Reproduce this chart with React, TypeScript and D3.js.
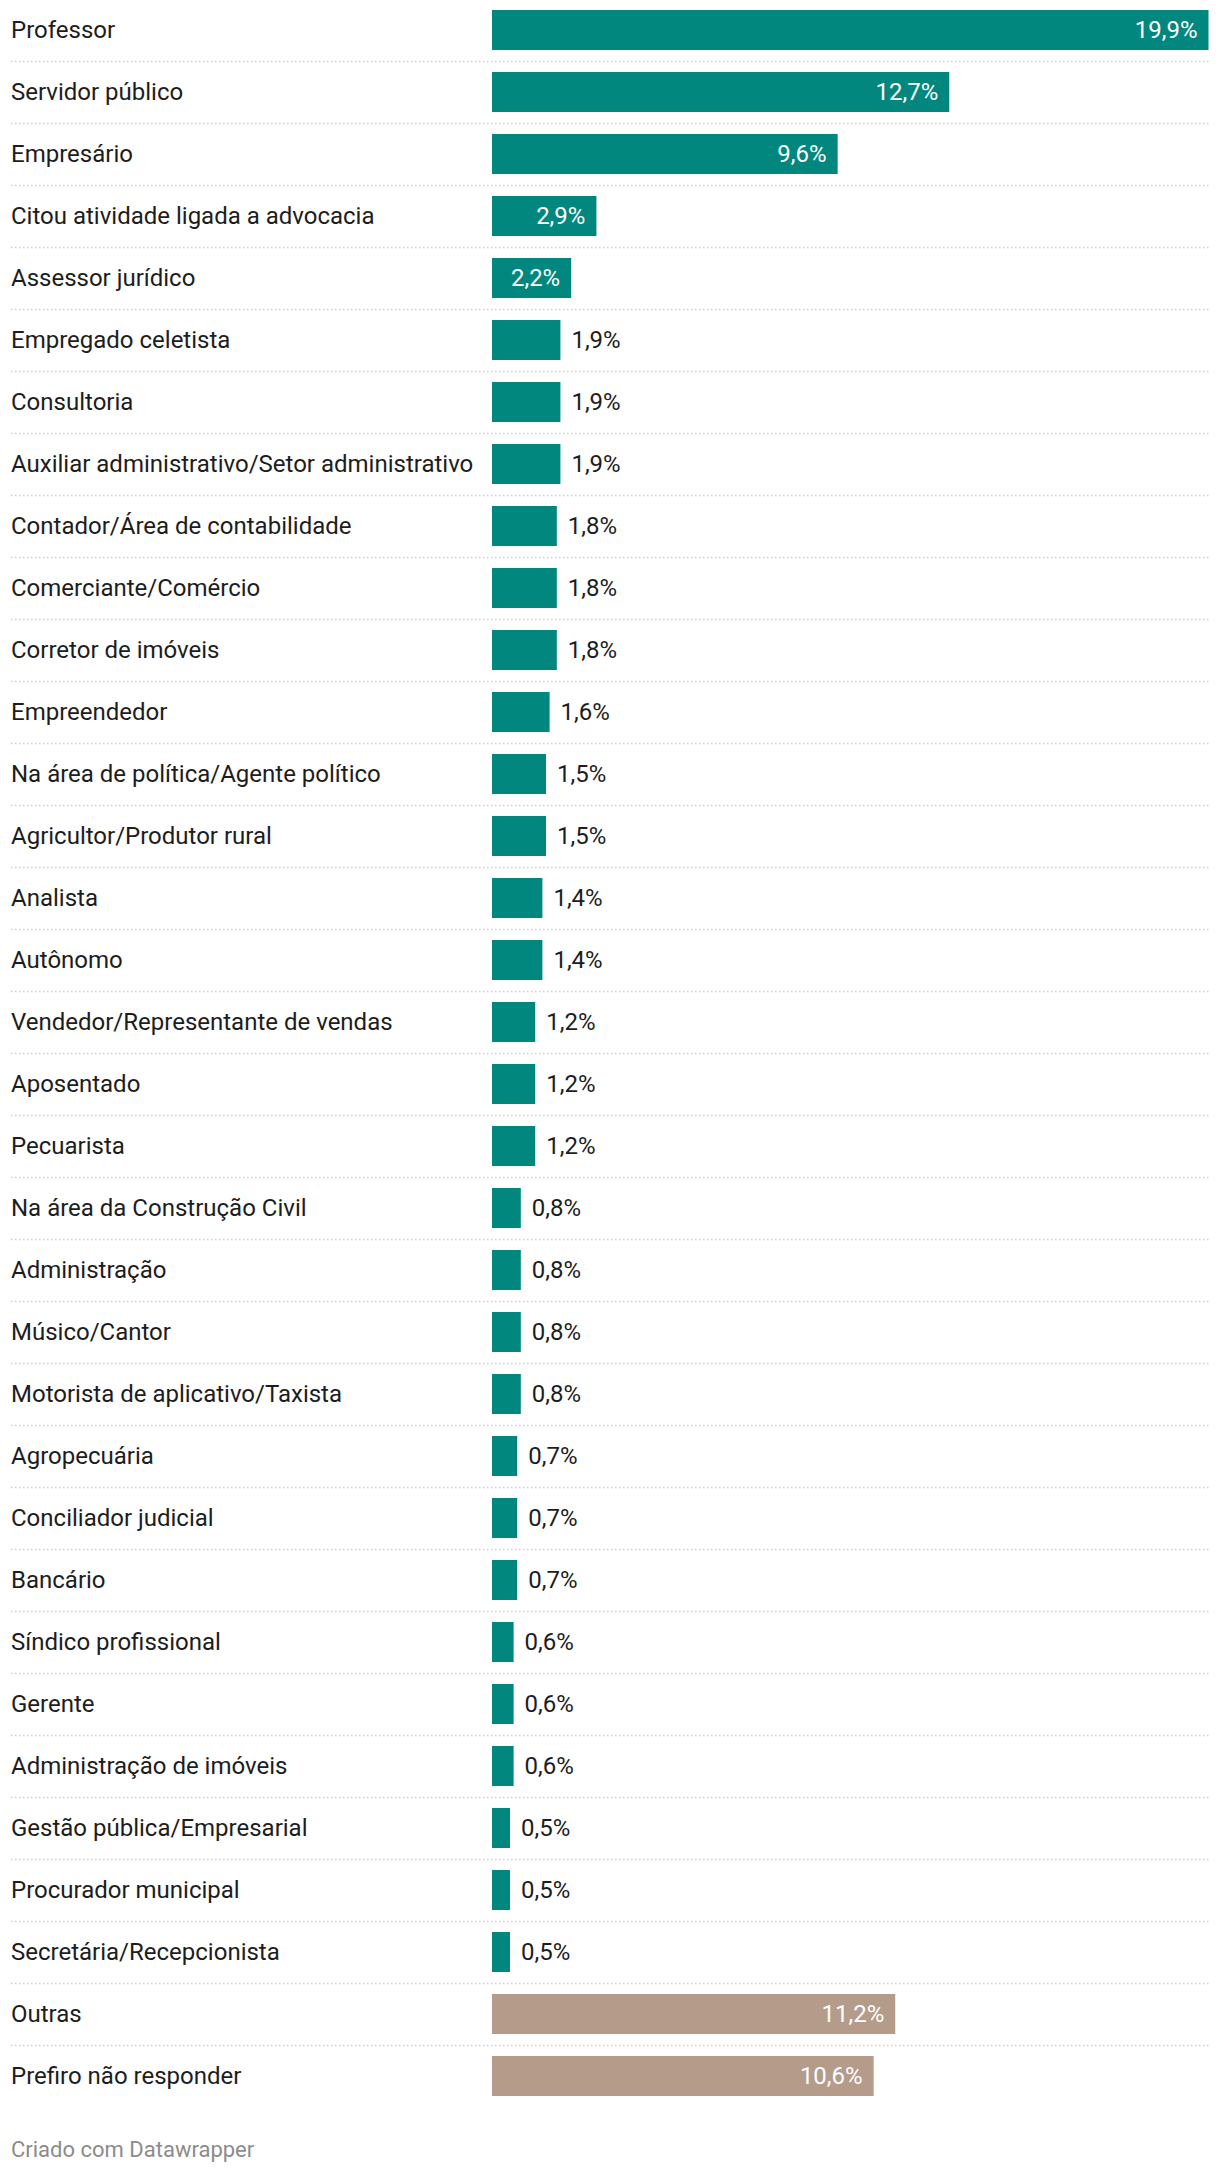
import React from 'react';
import * as d3 from 'd3';

const categories = [
  'Professor',
  'Servidor público',
  'Empresário',
  'Citou atividade ligada a advocacia',
  'Assessor jurídico',
  'Empregado celetista',
  'Consultoria',
  'Auxiliar administrativo/Setor administrativo',
  'Contador/Área de contabilidade',
  'Comerciante/Comércio',
  'Corretor de imóveis',
  'Empreendedor',
  'Na área de política/Agente político',
  'Agricultor/Produtor rural',
  'Analista',
  'Autônomo',
  'Vendedor/Representante de vendas',
  'Aposentado',
  'Pecuarista',
  'Na área da Construção Civil',
  'Administração',
  'Músico/Cantor',
  'Motorista de aplicativo/Taxista',
  'Agropecuária',
  'Conciliador judicial',
  'Bancário',
  'Síndico profissional',
  'Gerente',
  'Administração de imóveis',
  'Gestão pública/Empresarial',
  'Procurador municipal',
  'Secretária/Recepcionista',
  'Outras',
  'Prefiro não responder',
];

const values = [
  19.9, 12.7, 9.6, 2.9, 2.2, 1.9, 1.9, 1.9, 1.8, 1.8, 1.8, 1.6, 1.5, 1.5, 1.4, 1.4, 1.2,
  1.2, 1.2, 0.8, 0.8, 0.8, 0.8, 0.7, 0.7, 0.7, 0.6, 0.6, 0.6, 0.5, 0.5, 0.5, 11.2, 10.6,
];

// categories drawn in the muted tan colour
const neutral = ['Outras', 'Prefiro não responder'];

const WIDTH = 1220;
const HEIGHT = 2172;
const TEAL = '#01877d';
const TAN = '#b59b89';
const FONT = 'Roboto, "Noto Sans", sans-serif';

export default function App() {
  const n = categories.length;
  const pad = 22 / 62;

  const x = d3.scaleLinear().domain([0, 19.9]).range([492, 1208.5]);
  const y = d3
    .scaleBand<string>()
    .domain(categories)
    .range([-1, -1 + 62 * n])
    .paddingInner(pad)
    .paddingOuter(pad / 2);
  const bh = y.bandwidth();
  const fmt = (v: number) => v.toFixed(1).replace('.', ',') + '%';

  return (
    <svg
      width={WIDTH}
      height={HEIGHT}
      style={{ position: 'absolute', left: 0, top: 0, background: '#fff' }}
      fontFamily={FONT}
    >
      {categories.map((c, i) => {
        const v = values[i];
        const y0 = y(c)!;
        const cy = y0 + bh / 2;
        const w = x(v) - x(0);
        const inside = v >= 2;
        return (
          <g key={c}>
            {i < n - 1 && (
              <line
                x1={11}
                x2={1209}
                y1={y0 + bh + 11.5}
                y2={y0 + bh + 11.5}
                stroke="#cfcfcf"
                strokeWidth={1.5}
                strokeDasharray="1.5,2.5"
              />
            )}
            <text x={11} y={cy} dy="0.35em" fontSize={24} fill="#1d1d1d">
              {c}
            </text>
            <rect
              x={x(0)}
              y={y0}
              width={w}
              height={bh}
              fill={neutral.includes(c) ? TAN : TEAL}
            />
            <text
              x={inside ? x(v) - 11 : x(v) + 11}
              y={cy}
              dy="0.35em"
              fontSize={24}
              textAnchor={inside ? 'end' : 'start'}
              fill={inside ? '#ffffff' : '#1d1d1d'}
            >
              {fmt(v)}
            </text>
          </g>
        );
      })}
      <text x={11} y={2149} dy="0.35em" fontSize={22} fill="#8c8c8c">
        Criado com Datawrapper
      </text>
    </svg>
  );
}
